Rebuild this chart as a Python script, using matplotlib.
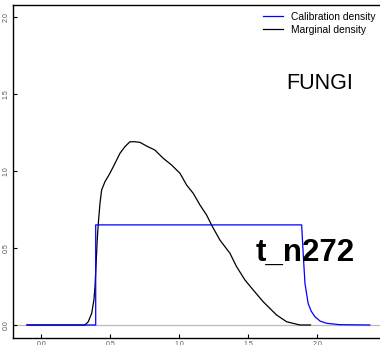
import matplotlib
matplotlib.use('Agg')
import matplotlib.pyplot as plt

plt.rcParams['font.family'] = ['Liberation Sans', 'DejaVu Sans']

# marginal density (black)
marg_x = [-0.105, 0.315, 0.339, 0.364, 0.38, 0.388, 0.404, 0.412, 0.424, 0.436,
          0.46, 0.496, 0.533, 0.569, 0.605, 0.641, 0.678, 0.714, 0.762, 0.822,
          0.883, 0.943, 1.004, 1.052, 1.10, 1.149, 1.197, 1.233, 1.293, 1.366,
          1.414, 1.475, 1.535, 1.607, 1.704, 1.777, 1.873, 1.95]
marg_y = [0.0, 0.0, 0.021, 0.076, 0.162, 0.249, 0.552, 0.66, 0.79, 0.877,
          0.93, 0.985, 1.05, 1.115, 1.158, 1.19, 1.19, 1.186, 1.162, 1.136,
          1.082, 1.039, 0.985, 0.909, 0.855, 0.779, 0.714, 0.649, 0.552, 0.466,
          0.379, 0.292, 0.227, 0.151, 0.065, 0.021, 0.0, 0.0]

# calibration density (blue)
cal_x = [-0.105, 0.393, 0.393, 1.886, 1.892, 1.900, 1.910, 1.933, 1.955, 1.982,
         2.02, 2.067, 2.163, 2.38]
cal_y = [0.0, 0.0, 0.65, 0.65, 0.55, 0.42, 0.27, 0.14, 0.09, 0.054,
         0.025, 0.011, 0.002, 0.0]

fig = plt.figure(figsize=(3.8, 3.45), dpi=100)
ax = fig.add_axes([0.0342, 0.0212, 0.976, 0.9643])

ax.axhline(0, color='#bbbbbb', lw=0.9, zorder=1)
ax.plot(marg_x, marg_y, color='black', lw=0.9, label='Marginal density', zorder=2)
ax.plot(cal_x, cal_y, color='#0000ff', lw=0.9, label='Calibration density', zorder=3)

ax.set_xlim(-0.2065, 2.482)
ax.set_ylim(-0.0825, 2.078)
ax.set_xticks([0.0, 0.5, 1.0, 1.5, 2.0])
ax.set_yticks([0.0, 0.5, 1.0, 1.5, 2.0])
ax.set_xticklabels(['0.0', '0.5', '1.0', '1.5', '2.0'])
ax.set_yticklabels(['0.0', '0.5', '1.0', '1.5', '2.0'], rotation=90, va='center')
ax.tick_params(direction='in', length=3, width=0.8, labelsize=5,
               labelcolor='#555555', pad=2.5)
ax.spines['right'].set_visible(False)
for s in ['left', 'top', 'bottom']:
    ax.spines[s].set_linewidth(1.0)

handles, labels = ax.get_legend_handles_labels()
ax.legend(handles[::-1], labels[::-1], loc='upper left', frameon=False,
          bbox_to_anchor=(263 / 380, 1 - 12 / 345), bbox_transform=fig.transFigure,
          borderpad=0, borderaxespad=0, fontsize=7.4, handlelength=1.95,
          handletextpad=0.78, labelspacing=0.25)

ax.text(2.02, 1.565, 'FUNGI', fontsize=15.5, ha='center', va='center')
ax.text(1.91, 0.47, 't_n272', fontsize=22.5, fontweight='bold', ha='center', va='center')

fig.savefig('out.png', dpi=100)
